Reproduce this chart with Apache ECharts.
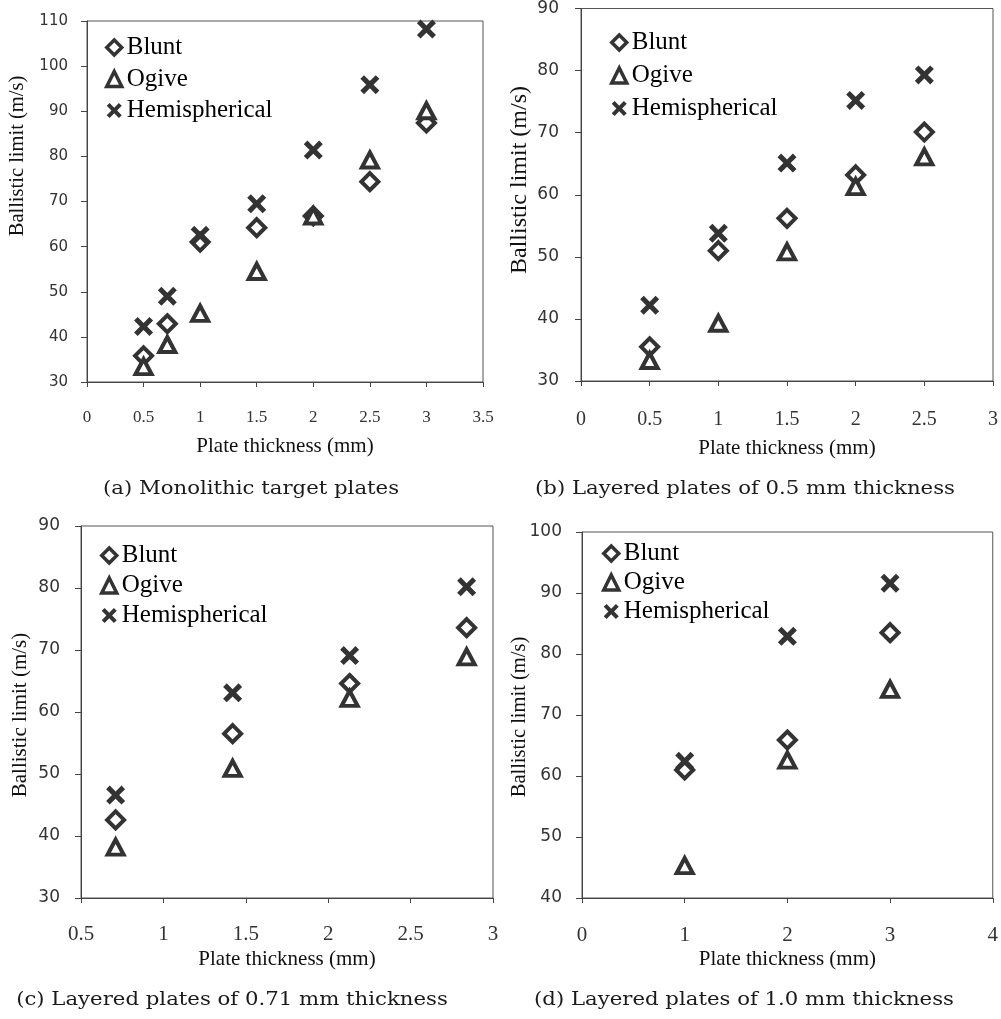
<!DOCTYPE html>
<html>
<head>
<meta charset="utf-8">
<script src="https://cdn.jsdelivr.net/npm/echarts@6/dist/echarts.min.js"></script>
<style>
  html, body { margin: 0; padding: 0; background: #ffffff; }
  #chart { width: 1001px; height: 1019px; }
</style>
</head>
<body>
<div id="chart"></div>
<script>
// Ballistic limit versus plate thickness for three projectile nose shapes

const seriesNames = ['Blunt', 'Ogive', 'Hemispherical'];

// (a) Monolithic target plates
const thickA = [0.5, 0.71, 1, 1.5, 2, 2.5, 3];
const bluntA = [35.8, 42.9, 61.0, 64.2, 66.8, 74.4, 87.4];
const ogiveA = [33.4, 38.3, 45.2, 54.5, 66.8, 79.2, 90.1];
const hemiA  = [42.3, 49.0, 62.5, 69.5, 81.4, 95.9, 108.2];

// (b) Layered plates of 0.5 mm thickness
const thickB = [0.5, 1, 1.5, 2, 2.5];
const bluntB = [35.5, 51.0, 56.2, 63.2, 70.1];
const ogiveB = [33.3, 39.3, 50.8, 61.3, 66.1];
const hemiB  = [42.2, 53.8, 65.1, 75.2, 79.3];

// (c) Layered plates of 0.71 mm thickness
const thickC = [0.71, 1.42, 2.13, 2.84];
const bluntC = [42.6, 56.5, 64.6, 73.6];
const ogiveC = [38.2, 50.9, 62.2, 68.9];
const hemiC  = [46.6, 63.1, 69.1, 80.2];

// (d) Layered plates of 1.0 mm thickness
const thickD = [1, 2, 3];
const bluntD = [61.0, 65.9, 83.5];
const ogiveD = [45.3, 62.6, 74.2];
const hemiD  = [62.4, 82.9, 91.6];

const captions = [
  '(a) Monolithic target plates',
  '(b) Layered plates of 0.5 mm thickness',
  '(c) Layered plates of 0.71 mm thickness',
  '(d) Layered plates of 1.0 mm thickness'
];
const xTitle = 'Plate thickness (mm)';
const yTitle = 'Ballistic limit (m/s)';

// axis ranges: [xMin, xMax, xStep, yMin, yMax, yStep]
const rangeA = [0, 3.5, 0.5, 30, 110, 10];
const rangeB = [0, 3, 0.5, 30, 90, 10];
const rangeC = [0.5, 3, 0.5, 30, 90, 10];
const rangeD = [0, 4, 1, 40, 100, 10];

const panels = [
  { x: thickA, ys: [bluntA, ogiveA, hemiA], r: rangeA,
    grid: { left: 87, top: 21, width: 396, height: 361 },
    yFont: 15, yMargin: 19, xFont: 17, xMargin: 27, nameGap: 54,
    legend: { left: 105, top: 35, gap: 6.5 } },
  { x: thickB, ys: [bluntB, ogiveB, hemiB], r: rangeB,
    grid: { left: 581, top: 8, width: 412, height: 373 },
    yFont: 17, yMargin: 22, xFont: 20, xMargin: 29, nameGap: 57,
    legend: { left: 610, top: 30, gap: 8 } },
  { x: thickC, ys: [bluntC, ogiveC, hemiC], r: rangeC,
    grid: { left: 81, top: 526, width: 412, height: 372 },
    yFont: 17, yMargin: 21, xFont: 21, xMargin: 26, nameGap: 51,
    legend: { left: 100, top: 543, gap: 5 } },
  { x: thickD, ys: [bluntD, ogiveD, hemiD], r: rangeD,
    grid: { left: 582, top: 532, width: 411, height: 366 },
    yFont: 17, yMargin: 20, xFont: 21, xMargin: 27, nameGap: 51,
    legend: { left: 602, top: 541, gap: 4 } }
];

const ink = '#333333';
const axisInk = '#444444';
// thick saltire drawn as a filled outline
const crossPath = 'path://M0,1.9L1.9,0L5,3.1L8.1,0L10,1.9L6.9,5L10,8.1L8.1,10L5,6.9L1.9,10L0,8.1L3.1,5Z';

const symbolStyles = [
  { symbol: 'diamond', symbolSize: [17, 17], itemStyle: { color: '#ffffff', borderColor: ink, borderWidth: 4, opacity: 1 } },
  { symbol: 'triangle', symbolSize: [16, 15], itemStyle: { color: '#ffffff', borderColor: ink, borderWidth: 4, opacity: 1 } },
  { symbol: crossPath, symbolSize: 19, itemStyle: { color: ink, borderWidth: 0, opacity: 1 } }
];

const legendItems = [
  { name: 'Blunt', itemStyle: { color: '#ffffff', borderColor: ink, borderWidth: 3.5, opacity: 1 } },
  { name: 'Ogive', itemStyle: { color: '#ffffff', borderColor: ink, borderWidth: 3.5, opacity: 1 } },
  { name: 'Hemispherical', itemStyle: { color: ink, borderWidth: 0, opacity: 1 } }
];

const option = {
  backgroundColor: '#ffffff',
  animation: false,
  grid: [], xAxis: [], yAxis: [], series: [], legend: [], graphic: []
};

panels.forEach((p, i) => {
  option.grid.push(Object.assign({
    show: true, borderColor: '#555555', borderWidth: 1, backgroundColor: 'transparent'
  }, p.grid));

  option.xAxis.push({
    type: 'value', gridIndex: i,
    min: p.r[0], max: p.r[1], interval: p.r[2],
    axisLine: { show: true, onZero: false, lineStyle: { color: axisInk, width: 1 } },
    axisTick: { show: true, inside: false, length: 5, lineStyle: { color: axisInk } },
    splitLine: { show: false },
    axisLabel: { margin: p.xMargin, color: '#333', fontFamily: 'Liberation Serif', fontSize: p.xFont },
    name: xTitle, nameLocation: 'middle', nameGap: p.nameGap,
    nameTextStyle: { fontFamily: 'Liberation Serif', fontSize: 21, color: '#111' }
  });

  option.yAxis.push({
    type: 'value', gridIndex: i,
    min: p.r[3], max: p.r[4], interval: p.r[5],
    axisLine: { show: true, onZero: false, lineStyle: { color: axisInk, width: 1 } },
    axisTick: { show: true, inside: false, length: 6, lineStyle: { color: axisInk } },
    splitLine: { show: false },
    axisLabel: { margin: p.yMargin, color: '#333', fontFamily: 'DejaVu Sans', fontSize: p.yFont }
  });

  p.ys.forEach((vals, k) => {
    option.series.push(Object.assign({
      name: seriesNames[k], type: 'scatter',
      xAxisIndex: i, yAxisIndex: i,
      data: p.x.map((t, j) => [t, vals[j]]),
      z: 3 + k
    }, symbolStyles[k]));
  });

  option.legend.push({
    orient: 'vertical',
    left: p.legend.left, top: p.legend.top,
    itemWidth: 15, itemHeight: 15, itemGap: p.legend.gap,
    padding: 0,
    data: legendItems,
    textStyle: { fontFamily: 'Liberation Serif', fontSize: 25, lineHeight: 24, color: '#000' },
    selectedMode: false
  });
});

// vertical axis titles
const yTitlePos = [[18, 156, 20.5], [520, 180, 24], [20, 715, 21], [520, 717, 20.5]];
yTitlePos.forEach(([x, y, fs]) => {
  option.graphic.push({
    type: 'text', x: x, y: y, rotation: Math.PI / 2,
    style: { text: yTitle, fontFamily: 'Liberation Serif', fontSize: fs, fill: '#111',
             align: 'center', verticalAlign: 'middle' }
  });
});

// sub-figure captions
const capPos = [[251, 489], [745, 489], [232, 1000], [744, 1000]];
capPos.forEach(([x, y], i) => {
  option.graphic.push({
    type: 'text', x: x, y: y, scaleX: 1.18,
    style: { text: captions[i], fontFamily: 'DejaVu Serif', fontSize: 18, fill: '#1a1a1a',
             align: 'center', verticalAlign: 'middle' }
  });
});

const chart = echarts.init(document.getElementById('chart'), null, { renderer: 'canvas' });
chart.setOption(option);
</script>
</body>
</html>
